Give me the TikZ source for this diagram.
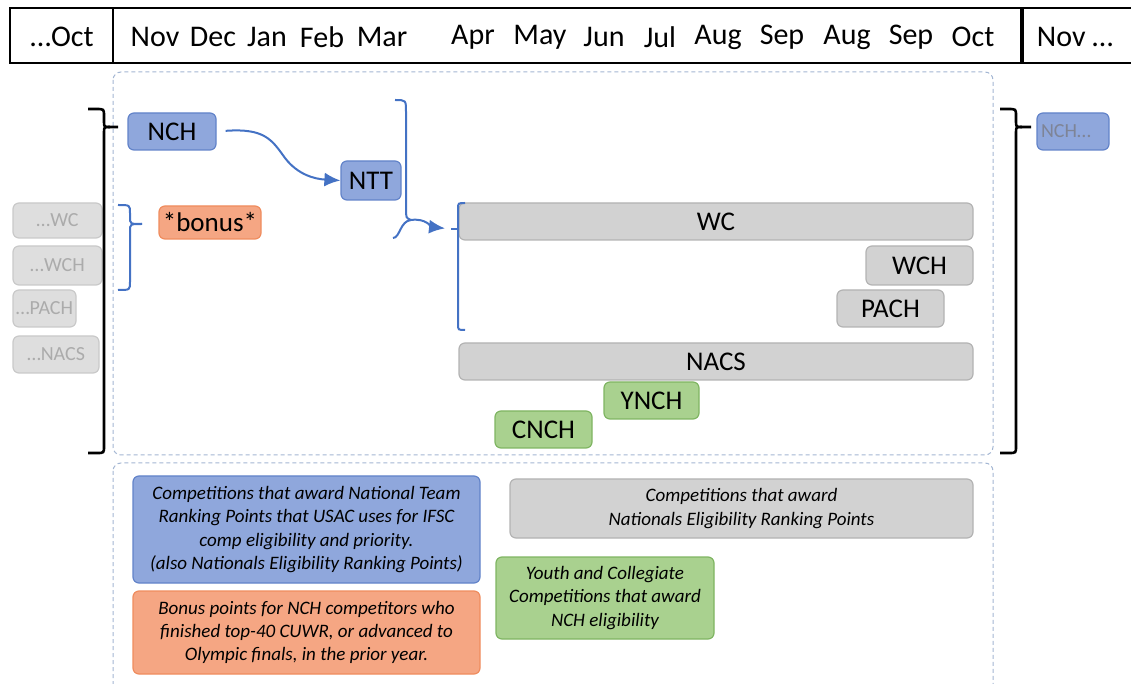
\documentclass[tikz,border=0pt]{standalone}
\usepackage{fontspec}
\setmainfont{Carlito}
\usetikzlibrary{arrows.meta}
\usetikzlibrary{positioning}

\definecolor{bleufond}{HTML}{8FA7DC}
\definecolor{bleubord}{HTML}{6283C9}
\definecolor{orfond}{HTML}{F5A683}
\definecolor{orbord}{HTML}{EF8C5E}
\definecolor{grisfond}{HTML}{D2D2D2}
\definecolor{grisbord}{HTML}{B3B3B3}
\definecolor{vertfond}{HTML}{A9D18F}
\definecolor{vertbord}{HTML}{7FB562}
\definecolor{palefond}{HTML}{DEDEDE}
\definecolor{palebord}{HTML}{C9C9C9}
\definecolor{paletexte}{HTML}{ABABAB}
\definecolor{suitetexte}{HTML}{7E8496}
\definecolor{trait}{HTML}{4472C4}
\definecolor{cadre}{HTML}{A3B6D3}

\tikzset{
  boite/.style={draw, rounded corners=3pt, line width=0.6pt, inner sep=0pt,
    font=\fontsize{13.5}{16}\selectfont},
  boitebleue/.style={boite, fill=bleufond, draw=bleubord},
  boiteorange/.style={boite, fill=orfond, draw=orbord},
  boitegrise/.style={boite, fill=grisfond, draw=grisbord},
  boiteverte/.style={boite, fill=vertfond, draw=vertbord},
  boitepale/.style={boite, fill=palefond, draw=palebord, text=paletexte,
    font=\fontsize{10}{12}\selectfont},
  legende/.style={align=center, font=\fontsize{9.5}{11.6}\selectfont\itshape},
  cadrepointille/.style={draw=cadre, dash pattern=on 2pt off 1.5pt, line width=0.5pt, rounded corners=4pt},
  accolade/.style={line width=1.3pt, black},
  accobleue/.style={line width=1pt, trait},
  fleche/.style={line width=1pt, trait, -{Latex[length=8pt,width=7pt]}}
}

\begin{document}
\begin{tikzpicture}[x=0.5pt,y=-0.5pt]
\useasboundingbox (0,0) rectangle (1131,684);
\clip (0,0) rectangle (1131,684);

% Bandeau des mois
\draw[line width=1.2pt] (10,8) rectangle (1140,63);
\draw[line width=1.2pt] (113,8) -- (113,63);
\draw[line width=2pt] (1022,8) -- (1022,63);
\foreach \x/\m in {62/{\dots Oct},155/Nov,213/Dec,267/Jan,322/Feb,382/Mar,473/Apr,540/May,604/Jun,660/Jul,718/Aug,782/Sep,847/Aug,911/Sep,973/Oct,1075/{Nov \dots}}{
  \node[font=\fontsize{15}{18}\selectfont] (mois-\x) at (\x,37) {\m};
}

% Cadres pointilles
\draw[cadrepointille] (113,72) rectangle (993,455);
\draw[cadrepointille] (113,463) rectangle (993,720);

% Saison precedente / suivante
\node[boitepale, minimum width=44.5pt, minimum height=17.5pt] (pwc) at (57.5,220.5) {\dots WC};
\node[boitepale, minimum width=44.5pt, minimum height=19.5pt] (pwch) at (57.5,265.5) {\dots WCH};
\node[boitepale, minimum width=31.5pt, minimum height=18.5pt] (ppach) at (44.5,308.5) {\dots PACH};
\node[boitepale, minimum width=43pt, minimum height=18.5pt] (pnacs) at (56,354.5) {\dots NACS};
\node[boitebleue, minimum width=36pt, minimum height=18.5pt, text=suitetexte,
  font=\fontsize{10}{12}\selectfont, text width=32pt, align=left, inner xsep=2pt] (snch) at (1073,131.5) {NCH\dots\\[-2pt]};

% Accolades noires
\draw[accolade] (88,109) -- (96,109) .. controls (104,109) .. (104,116) -- (104,121) .. controls (104,127) .. (110,127) -- (118,127);
\draw[accolade] (110,127) .. controls (104,127) .. (104,133) -- (104,446) .. controls (104,453) .. (97,453) -- (88,453);
\draw[accolade] (1000,109) -- (1008,109) .. controls (1016,109) .. (1016,116) -- (1016,121) .. controls (1016,127) .. (1022,127) -- (1031,127);
\draw[accolade] (1022,127) .. controls (1016,127) .. (1016,133) -- (1016,446) .. controls (1016,453) .. (1009,453) -- (1000,453);

% Competitions de l'annee
\node[boitebleue, minimum width=44pt, minimum height=18.5pt] (nch) at (172,131.5) {NCH};
\node[boitebleue, minimum width=30pt, minimum height=19.5pt] (ntt) at (371,180.5) {NTT};
\node[boiteorange, minimum width=51pt, minimum height=16.5pt] (bonus) at (210,222.5) {*bonus*};
\node[boitegrise, minimum width=257pt, minimum height=18.5pt] (wc) at (716,221.5) {WC};
\node[boitegrise, minimum width=53.5pt, minimum height=19.5pt] (wch) at (919.5,265.5) {WCH};
\node[boitegrise, minimum width=53.5pt, minimum height=18.5pt] (pach) at (890.5,308.5) {PACH};
\node[boitegrise, minimum width=257pt, minimum height=18.5pt] (nacs) at (716,361.5) {NACS};
\node[boiteverte, minimum width=47.5pt, minimum height=18.5pt] (ynch) at (651.5,400.5) {YNCH};
\node[boiteverte, minimum width=48.5pt, minimum height=18.5pt] (cnch) at (543.5,429.5) {CNCH};

% NCH vers NTT
\draw[fleche, shorten <=4.5pt] (nch.east) .. controls (265,128) and (272,140) .. (285,158) .. controls (298,175) and (315,179) .. (ntt.west);

% Accolade du bonus
\draw[accobleue] (118,205) .. controls (130,205) .. (130,213) -- (130,217) .. controls (130,224) .. (142,224);
\draw[accobleue] (142,224) .. controls (130,224) .. (130,231) -- (130,282) .. controls (130,290) .. (118,290);

% Grande accolade vers les coupes
\coordinate (pointe) at (411,220);
\coordinate (crochet) at (451,229);
\draw[accobleue] (395,100) .. controls (406,100) .. (406,112) -- (406,208) .. controls (406,218) .. (pointe);
\draw[fleche, shorten >=3pt] (393,238) .. controls (400,238) and (400,221) .. (pointe) .. controls (426,218) and (432,227) .. (crochet);
\draw[accobleue] (465,203) .. controls (458,203) .. (458,209) -- (458,324) .. controls (458,330) .. (465,330);
\draw[accobleue] (458,229) -- (crochet);

% Legende
\node[boitebleue, minimum width=173.5pt, minimum height=53.5pt, legende] (lbleu) at (306.5,529.5)
  {Competitions that award National Team\\Ranking Points that USAC uses for IFSC\\comp eligibility and priority.\\(also Nationals Eligibility Ranking Points)};
\node[boiteorange, minimum width=173.5pt, minimum height=41.5pt, legende] (lorange) at (306.5,632.5)
  {Bonus points for NCH competitors who\\finished top-40 CUWR, or advanced to\\Olympic finals, in the prior year.};
\node[boitegrise, minimum width=231.5pt, minimum height=29.5pt, legende] (lgris) at (741.5,508.5)
  {Competitions that award\\Nationals Eligibility Ranking Points};
\node[boiteverte, minimum width=109pt, minimum height=41pt, legende] (lvert) at (605,598)
  {Youth and Collegiate\\Competitions that award\\NCH eligibility};
\end{tikzpicture}
\end{document}
